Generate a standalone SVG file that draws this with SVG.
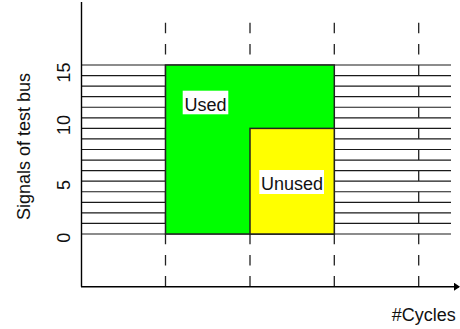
<svg xmlns="http://www.w3.org/2000/svg" width="460" height="329" viewBox="0 0 460 329">
  <style>
    .lbl { font-family: "Liberation Sans", Arial, sans-serif; font-size: 18px; fill: #111; }
    .row { stroke: #1a1a1a; stroke-width: 1.2; }
    .tick { stroke: #222; stroke-width: 1.3; stroke-dasharray: 10.55 10.55; fill: none; }
    .axis { stroke: #000; stroke-width: 1.4; fill: none; }
    .area { stroke: #222; stroke-width: 1.5; }
    .tag { fill: #fff; }
  </style>
  <defs>
    <marker id="arrow" viewBox="0 0 6 8" refX="5" refY="4" markerWidth="6" markerHeight="8" markerUnits="userSpaceOnUse" orient="auto">
      <path d="M0,0 L6,4 L0,8 Z" fill="#000"/>
    </marker>
  </defs>
  <rect width="460" height="329" fill="#fff"/>

  <!-- one line per bus signal, 0 at the bottom -->
  <g id="bus-rows">
    <line class="row" x1="81" y1="65" x2="451" y2="65"/>
    <line class="row" x1="81" y1="75.56" x2="451" y2="75.56"/>
    <line class="row" x1="81" y1="86.13" x2="451" y2="86.13"/>
    <line class="row" x1="81" y1="96.69" x2="451" y2="96.69"/>
    <line class="row" x1="81" y1="107.25" x2="451" y2="107.25"/>
    <line class="row" x1="81" y1="117.81" x2="451" y2="117.81"/>
    <line class="row" x1="81" y1="128.38" x2="451" y2="128.38"/>
    <line class="row" x1="81" y1="138.94" x2="451" y2="138.94"/>
    <line class="row" x1="81" y1="149.5" x2="451" y2="149.5"/>
    <line class="row" x1="81" y1="160.06" x2="451" y2="160.06"/>
    <line class="row" x1="81" y1="170.63" x2="451" y2="170.63"/>
    <line class="row" x1="81" y1="181.19" x2="451" y2="181.19"/>
    <line class="row" x1="81" y1="191.75" x2="451" y2="191.75"/>
    <line class="row" x1="81" y1="202.31" x2="451" y2="202.31"/>
    <line class="row" x1="81" y1="212.88" x2="451" y2="212.88"/>
    <line class="row" x1="81" y1="223.44" x2="451" y2="223.44"/>
    <line class="row" x1="81" y1="234" x2="451" y2="234"/>
  </g>

  <!-- cycle boundaries -->
  <g id="cycle-ticks">
    <line class="tick" x1="165.5" y1="22.8" x2="165.5" y2="286"/>
    <line class="tick" x1="250" y1="22.8" x2="250" y2="286"/>
    <line class="tick" x1="334.3" y1="22.8" x2="334.3" y2="286"/>
    <line class="tick" x1="418.7" y1="22.8" x2="418.7" y2="286"/>
  </g>

  <!-- axes -->
  <g id="axes">
    <line class="axis" x1="81.5" y1="2" x2="81.5" y2="286.7"/>
    <line class="axis" x1="81" y1="286.7" x2="459" y2="286.7" marker-end="url(#arrow)"/>
  </g>

  <g id="used">
    <rect class="area" x="165.5" y="65" width="168.8" height="169" fill="#00ff00"/>
    <rect class="tag" x="182.7" y="90.7" width="45.6" height="23.6"/>
    <text class="lbl" x="184.5" y="111.3">Used</text>
  </g>

  <g id="unused">
    <rect class="area" x="250" y="128.38" width="84.3" height="105.62" fill="#ffff00"/>
    <rect class="tag" x="259.3" y="170" width="64.7" height="24"/>
    <text class="lbl" x="261" y="190">Unused</text>
  </g>

  <!-- signal index labels -->
  <g id="y-labels">
    <text class="lbl" text-anchor="middle" transform="translate(69.8,237.7) rotate(-90)">0</text>
    <text class="lbl" text-anchor="middle" transform="translate(69.8,185) rotate(-90)">5</text>
    <text class="lbl" text-anchor="middle" transform="translate(69.8,125) rotate(-90)">10</text>
    <text class="lbl" text-anchor="middle" transform="translate(69.8,72.5) rotate(-90)">15</text>
    <text class="lbl" text-anchor="middle" transform="translate(29.5,146.5) rotate(-90)">Signals of test bus</text>
  </g>

  <text id="x-title" class="lbl" x="391.7" y="320.7">#Cycles</text>
</svg>
